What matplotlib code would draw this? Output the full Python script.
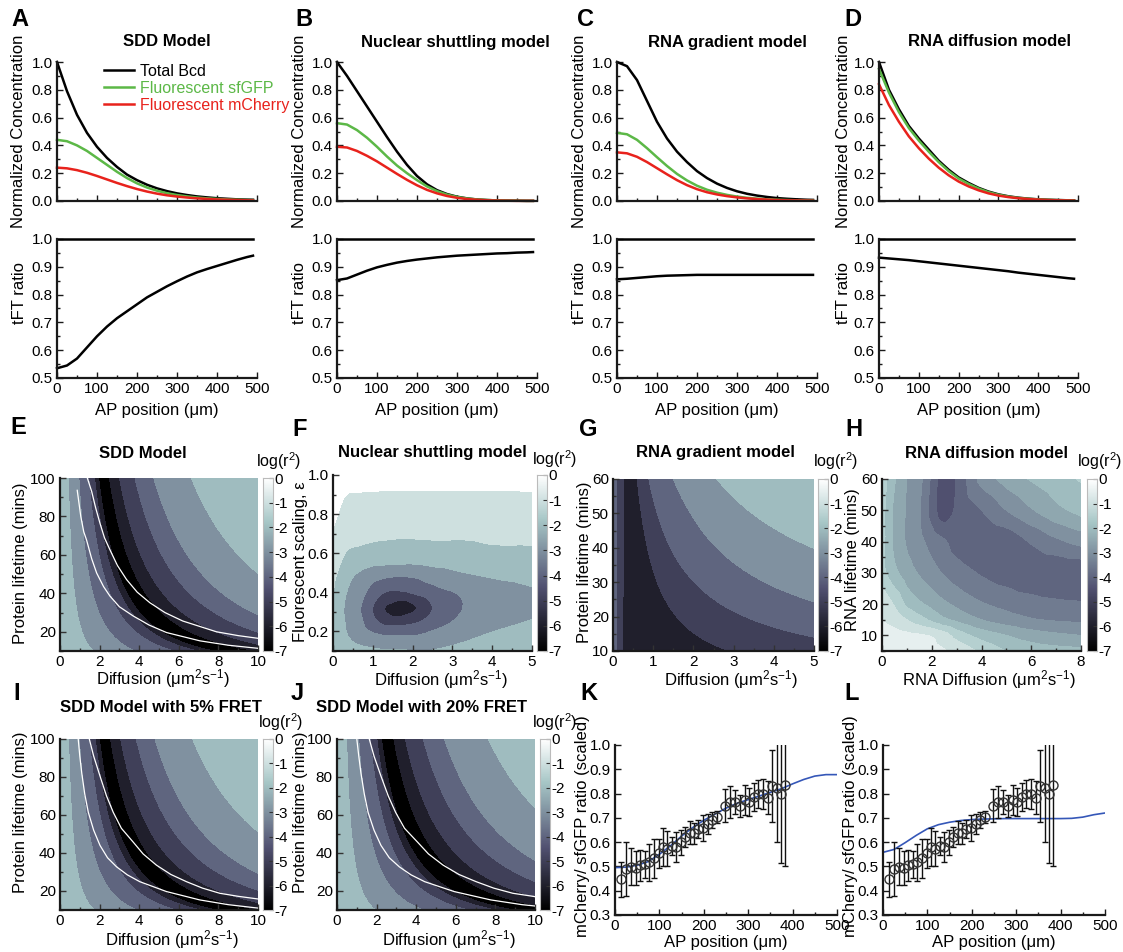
import numpy as np
import matplotlib
matplotlib.use('Agg')
import matplotlib.pyplot as plt
import matplotlib.tri as mtri
from matplotlib.colors import Normalize
from matplotlib.ticker import MultipleLocator, FormatStrFormatter

plt.rcParams['font.family'] = ['Liberation Sans', 'DejaVu Sans']
plt.rcParams['mathtext.fontset'] = 'custom'
plt.rcParams['mathtext.rm'] = 'Liberation Sans'
plt.rcParams['mathtext.it'] = 'Liberation Sans:italic'
plt.rcParams['mathtext.bf'] = 'Liberation Sans:bold'

# ---------------- data: top row (A-D) ----------------
ap_pos = [0, 25, 50, 75, 100, 125, 150, 175, 200, 225, 250, 275, 300, 325, 350, 375, 400, 425, 450, 475, 490]

A_total = [1.0, 0.79, 0.62, 0.49, 0.39, 0.31, 0.245, 0.19, 0.15, 0.117, 0.091, 0.071, 0.055, 0.043, 0.033, 0.026, 0.02, 0.016, 0.012, 0.01, 0.009]
A_gfp = [0.44, 0.43, 0.40, 0.36, 0.31, 0.26, 0.21, 0.165, 0.127, 0.097, 0.074, 0.056, 0.043, 0.033, 0.025, 0.019, 0.015, 0.011, 0.009, 0.007, 0.006]
A_mch = [0.24, 0.235, 0.222, 0.203, 0.18, 0.155, 0.13, 0.107, 0.086, 0.068, 0.053, 0.041, 0.032, 0.025, 0.019, 0.015, 0.011, 0.009, 0.007, 0.005, 0.004]
A_ratio = [0.535, 0.545, 0.57, 0.61, 0.65, 0.685, 0.715, 0.74, 0.765, 0.79, 0.81, 0.83, 0.848, 0.865, 0.88, 0.892, 0.903, 0.914, 0.925, 0.935, 0.94]

B_total = [1.0, 0.9, 0.79, 0.68, 0.57, 0.46, 0.355, 0.26, 0.18, 0.12, 0.078, 0.05, 0.031, 0.019, 0.011, 0.007, 0.004, 0.003, 0.002, 0.001, 0.001]
B_gfp = [0.56, 0.55, 0.51, 0.455, 0.39, 0.32, 0.255, 0.2, 0.15, 0.105, 0.071, 0.046, 0.029, 0.018, 0.011, 0.007, 0.004, 0.003, 0.002, 0.001, 0.001]
B_mch = [0.39, 0.385, 0.36, 0.325, 0.285, 0.24, 0.195, 0.152, 0.113, 0.08, 0.055, 0.036, 0.023, 0.014, 0.009, 0.005, 0.003, 0.002, 0.001, 0.001, 0.001]
B_ratio = [0.852, 0.858, 0.872, 0.886, 0.898, 0.907, 0.915, 0.921, 0.926, 0.93, 0.934, 0.937, 0.94, 0.942, 0.944, 0.946, 0.948, 0.949, 0.951, 0.952, 0.953]

C_total = [1.0, 0.97, 0.87, 0.72, 0.57, 0.45, 0.355, 0.28, 0.215, 0.165, 0.125, 0.094, 0.07, 0.052, 0.039, 0.029, 0.021, 0.016, 0.012, 0.009, 0.008]
C_gfp = [0.49, 0.48, 0.44, 0.38, 0.315, 0.252, 0.195, 0.148, 0.11, 0.081, 0.06, 0.044, 0.032, 0.023, 0.017, 0.012, 0.009, 0.007, 0.005, 0.004, 0.003]
C_mch = [0.35, 0.343, 0.318, 0.28, 0.236, 0.192, 0.15, 0.114, 0.085, 0.063, 0.047, 0.035, 0.026, 0.019, 0.014, 0.01, 0.007, 0.005, 0.004, 0.003, 0.002]
C_ratio = [0.855, 0.857, 0.86, 0.863, 0.866, 0.868, 0.869, 0.87, 0.871, 0.871, 0.871, 0.871, 0.871, 0.871, 0.871, 0.871, 0.871, 0.871, 0.871, 0.871, 0.871]

D_total = [1.0, 0.8, 0.66, 0.54, 0.45, 0.37, 0.29, 0.225, 0.17, 0.13, 0.095, 0.068, 0.048, 0.034, 0.024, 0.017, 0.012, 0.009, 0.007, 0.005, 0.004]
D_gfp = [0.95, 0.78, 0.64, 0.525, 0.435, 0.355, 0.28, 0.215, 0.162, 0.123, 0.09, 0.064, 0.045, 0.032, 0.022, 0.016, 0.011, 0.008, 0.006, 0.005, 0.004]
D_mch = [0.84, 0.69, 0.57, 0.465, 0.38, 0.305, 0.24, 0.185, 0.14, 0.105, 0.077, 0.055, 0.039, 0.028, 0.02, 0.014, 0.01, 0.007, 0.005, 0.004, 0.003]
D_ratio = [0.933, 0.93, 0.927, 0.924, 0.92, 0.916, 0.912, 0.908, 0.904, 0.9, 0.896, 0.892, 0.888, 0.884, 0.879, 0.875, 0.871, 0.867, 0.863, 0.859, 0.857]

top_titles = ['SDD Model', 'Nuclear shuttling model', 'RNA gradient model', 'RNA diffusion model']
legend_labels = ['Total Bcd', 'Fluorescent sfGFP', 'Fluorescent mCherry']

# ---------------- data: SDD-type maps (E, I, J): log(r^2) along u = D * tau^0.6 ----------------
sdd_exponent = 0.6
E_u = [0, 6.7, 15.1, 23, 27.7, 30.9, 35, 39.6, 47.6, 60, 75, 105, 300]
E_val = [-1.6, -2, -3, -4, -5, -6, -6.9, -6, -5, -4, -3, -2, -1.2]
I_u = [0, 6.9, 15.5, 23.5, 28.3, 31.5, 35.7, 40.4, 48.5, 61, 76, 106, 300]
I_val = [-1.6, -2, -3, -4, -5, -6, -6.9, -6, -5, -4, -3, -2, -1.2]
J_u = [0, 7.7, 17.4, 26.5, 31.9, 35.5, 40.3, 45.5, 54.7, 69, 86, 121, 345]
J_val = [-1.6, -2, -3, -4, -5, -6, -6.9, -6, -5, -4, -3, -2, -1.2]

E_white_lo_D = [0.87, 1.05, 1.2, 1.34, 1.6, 1.85, 2.2, 2.52, 3.0, 3.7, 4.5, 5.38, 7.06, 8.5, 10.0]
E_white_lo_tau = [93.6, 80, 72, 67.8, 58, 50.6, 43.5, 38.6, 33, 28.2, 23.5, 19.6, 15.3, 13, 11.4]
E_white_hi_D = [1.38, 1.6, 1.8, 2.02, 2.25, 2.52, 2.9, 3.36, 3.9, 4.54, 5.3, 6.2, 7.9, 9.0, 10.0]
E_white_hi_tau = [100, 93, 84.5, 76.4, 68.8, 62.7, 54.5, 47.2, 40.6, 35.1, 30, 25.6, 20, 18, 16.6]
I_white_lo_D = [0.92, 1.0, 1.1, 1.25, 1.43, 1.7, 2.02, 2.4, 2.86, 3.4, 4.03, 5.38, 7.06, 8.5, 10]
I_white_lo_tau = [100, 91, 82, 71, 61.4, 52, 44, 37.5, 32.7, 28.5, 24.9, 19.7, 15.3, 12.8, 11]
I_white_hi_D = [1.48, 1.7, 2.02, 2.35, 2.69, 3.1, 3.7, 4.2, 4.87, 5.6, 6.39, 7.2, 8.07, 9.0, 10]
I_white_hi_tau = [100, 91, 80.5, 70, 61.4, 53, 45.7, 39.5, 33.6, 28.7, 24.9, 21.5, 18.8, 17.2, 15.8]
J_white_lo_D = [1.0, 1.1, 1.21, 1.38, 1.57, 1.87, 2.22, 2.64, 3.15, 3.74, 4.43, 5.92, 7.77, 9.35, 10]
J_white_lo_tau = [100, 91, 82, 71, 61.4, 52, 44, 37.5, 32.7, 28.5, 24.9, 19.7, 15.3, 12.8, 12.1]
J_white_hi_D = [1.63, 1.87, 2.22, 2.59, 2.96, 3.41, 4.07, 4.62, 5.36, 6.16, 7.03, 7.92, 8.88, 9.9, 10]
J_white_hi_tau = [100, 91, 80.5, 70, 61.4, 53, 45.7, 39.5, 33.6, 28.7, 24.9, 21.5, 18.8, 17.2, 17.0]

# ---------------- data: F (nuclear shuttling) coarse grid ----------------
F_D = [0, 0.3, 0.7, 1.0, 1.3, 1.7, 2.1, 2.5, 3.2, 4.0, 5.0]
F_eps = [0.1, 0.18, 0.25, 0.32, 0.4, 0.48, 0.56, 0.64, 0.72, 0.8, 0.9, 1.0]
F_logr2 = [
    [-1.4, -1.5, -1.7, -1.8, -1.9, -1.9, -2.0, -1.95, -1.7, -1.5, -1.3],
    [-1.5, -1.9, -2.5, -2.8, -3.0, -3.0, -3.0, -2.7, -2.3, -1.9, -1.65],
    [-1.5, -2.0, -2.85, -3.7, -4.3, -4.4, -4.1, -3.6, -2.8, -2.3, -1.95],
    [-1.4, -2.05, -3.0, -4.0, -5.0, -5.6, -5.0, -4.0, -3.05, -2.6, -2.2],
    [-1.0, -1.9, -2.7, -3.4, -4.0, -4.1, -3.8, -3.4, -2.9, -2.45, -2.1],
    [-0.8, -1.6, -2.3, -2.7, -2.9, -3.0, -2.9, -2.6, -2.2, -1.95, -1.75],
    [-0.55, -1.15, -1.5, -1.7, -1.75, -1.8, -1.8, -1.7, -1.6, -1.5, -1.35],
    [-0.3, -0.85, -1.0, -1.1, -1.15, -1.2, -1.2, -1.15, -1.15, -1.02, -1.0],
    [-0.03, -0.5, -0.6, -0.7, -0.75, -0.78, -0.75, -0.75, -0.75, -0.75, -0.72],
    [0.2, -0.25, -0.3, -0.4, -0.45, -0.47, -0.45, -0.45, -0.45, -0.45, -0.44],
    [0.5, 0.03, -0.04, -0.05, -0.08, -0.08, -0.08, -0.08, -0.08, -0.08, -0.06],
    [0.8, 0.4, 0.35, 0.3, 0.3, 0.3, 0.3, 0.3, 0.3, 0.3, 0.3],
]

# ---------------- data: G (RNA gradient) contour knots per lifetime row ----------------
G_tau = [10, 20, 30, 40, 50, 60]
G_knot_val = [-3.8, -4.0, -5.0, -5.7, -5.0, -4.0, -3.0, -2.0, -1.0]
G_knot_D = [
    [0, 0.09, 0.22, 1.5, 2.9, 7.47, 16.3, 46, 184],
    [0, 0.08, 0.24, 0.9, 1.58, 3.28, 6.5, 15.2, 60],
    [0, 0.08, 0.25, 0.6, 1.1, 2.02, 3.77, 7.9, 32],
    [0, 0.08, 0.26, 0.48, 0.857, 1.43, 2.58, 4.96, 20],
    [0, 0.08, 0.26, 0.42, 0.705, 1.1, 1.93, 3.46, 14],
    [0, 0.08, 0.26, 0.4, 0.6, 0.89, 1.5, 2.58, 10.3],
]

# ---------------- data: H (RNA diffusion) coarse grid ----------------
H_D = [0, 0.5, 1, 1.5, 2, 2.5, 3, 4, 5, 6, 7, 8]
H_tau = [5, 10, 15, 20, 30, 40, 50, 60]
H_logr2 = [
    [-0.3, -0.3, -0.3, -0.35, -0.4, -0.45, -0.6, -1.1, -1.5, -1.7, -1.8, -1.85],
    [-0.3, -0.35, -0.4, -0.45, -0.55, -0.8, -1.2, -1.7, -2.0, -2.25, -2.4, -2.5],
    [-0.5, -0.7, -1.0, -1.3, -1.6, -1.9, -2.1, -2.5, -2.75, -2.95, -3.05, -3.1],
    [-0.6, -1.05, -1.6, -1.9, -2.15, -2.4, -2.6, -2.95, -3.15, -3.3, -3.4, -3.45],
    [-1.3, -1.85, -2.25, -2.55, -2.8, -3.05, -3.25, -3.55, -3.7, -3.8, -3.85, -3.85],
    [-1.3, -2.1, -2.55, -2.85, -3.2, -3.45, -3.7, -3.85, -3.8, -3.45, -3.1, -2.85],
    [-1.3, -2.1, -2.55, -2.95, -3.7, -4.3, -3.9, -3.5, -3.0, -2.55, -2.15, -1.85],
    [-1.2, -1.95, -2.5, -2.85, -3.6, -4.3, -3.95, -2.85, -2.3, -1.95, -1.7, -1.45],
]

# ---------------- data: K, L (measured ratio vs model) ----------------
meas_x = [13.5, 24, 35, 46.6, 56, 67, 77, 88, 99, 107.5, 118, 128, 137.6, 148, 158, 168, 178, 188, 199, 209,
          219.5, 229, 248, 259, 270.7, 282, 292, 302, 312, 323, 333, 343.6, 353, 364, 373, 383]
meas_y = [0.448, 0.489, 0.499, 0.492, 0.504, 0.509, 0.517, 0.533, 0.554, 0.579, 0.572, 0.585, 0.581, 0.599, 0.623,
          0.639, 0.636, 0.654, 0.657, 0.673, 0.691, 0.702, 0.75, 0.765, 0.765, 0.749, 0.774, 0.765, 0.787, 0.797,
          0.798, 0.783, 0.831, 0.824, 0.798, 0.836]
meas_err = [0.072, 0.11, 0.075, 0.07, 0.062, 0.056, 0.075, 0.08, 0.06, 0.079, 0.072, 0.038, 0.062, 0.053, 0.041,
            0.048, 0.043, 0.038, 0.054, 0.041, 0.034, 0.025, 0.067, 0.067, 0.048, 0.045, 0.062, 0.058, 0.058, 0.058,
            0.062, 0.068, 0.147, 0.224, 0.282, 0.336]
model_x = [0, 25, 50, 75, 100, 125, 150, 175, 200, 225, 250, 275, 300, 325, 350, 375, 400, 425, 450, 475, 500]
K_model = [0.495, 0.497, 0.505, 0.52, 0.55, 0.585, 0.625, 0.66, 0.69, 0.715, 0.74, 0.76, 0.775, 0.79, 0.805, 0.82,
           0.84, 0.858, 0.872, 0.878, 0.878]
L_model = [0.558, 0.57, 0.598, 0.628, 0.655, 0.672, 0.682, 0.689, 0.693, 0.695, 0.696, 0.697, 0.697, 0.697, 0.697,
           0.697, 0.697, 0.698, 0.703, 0.713, 0.72]

# ---------------- figure ----------------
W, H = 1123, 952
fig = plt.figure(figsize=(W / 100, H / 100), dpi=100)
TICK_FS = 11
LAB_FS = 12
TTL_FS = 12


def add_ax(x0, y0, x1, y1):
    return fig.add_axes([x0 / W, 1 - y1 / H, (x1 - x0) / W, (y1 - y0) / H])


def ftext(x, y, s, **kw):
    fig.text(x / W, 1 - y / H, s, **kw)


def style(ax):
    for s in ['top', 'right']:
        ax.spines[s].set_visible(False)
    for s in ['left', 'bottom']:
        ax.spines[s].set_linewidth(1.6)
        ax.spines[s].set_color('#1a1a1a')
    ax.tick_params(which='both', direction='in', labelsize=TICK_FS, width=1.0, color='#1a1a1a', pad=3)
    ax.tick_params(which='major', length=4)
    ax.tick_params(which='minor', length=2.5)


GREEN = '#5cb847'
RED = '#e8221c'
cols_x = [(57, 257), (337, 537), (617, 817), (879, 1078)]
tot = [A_total, B_total, C_total, D_total]
gfp = [A_gfp, B_gfp, C_gfp, D_gfp]
mch = [A_mch, B_mch, C_mch, D_mch]
rat = [A_ratio, B_ratio, C_ratio, D_ratio]
title_x = [167, 455, 727, 990]
letter_x = [20, 304, 586, 853]
ylab_x = [19, 299, 579, 843]

for k in range(4):
    x0, x1 = cols_x[k]
    ax = add_ax(x0, 62, x1, 201)
    style(ax)
    l1, = ax.plot(ap_pos, tot[k], color='k', lw=1.8, clip_on=False, label=legend_labels[0])
    l2, = ax.plot(ap_pos, gfp[k], color=GREEN, lw=1.8, clip_on=False, label=legend_labels[1])
    l3, = ax.plot(ap_pos, mch[k], color=RED, lw=1.8, clip_on=False, label=legend_labels[2])
    ax.set_xlim(0, 500)
    ax.set_ylim(0, 1.0)
    ax.xaxis.set_major_locator(MultipleLocator(100))
    ax.xaxis.set_minor_locator(MultipleLocator(50))
    ax.yaxis.set_major_locator(MultipleLocator(0.2))
    ax.yaxis.set_minor_locator(MultipleLocator(0.1))
    ax.yaxis.set_major_formatter(FormatStrFormatter('%.1f'))
    ax.tick_params(axis='x', which='both', labelbottom=False)
    if k == 0:
        fig.legend(handles=[l1, l2, l3], loc='upper left', bbox_to_anchor=(104 / W, 1 - 64 / H),
                   frameon=False, fontsize=11.5, handlelength=1.9, handletextpad=0.35, labelspacing=0.12,
                   borderpad=0, borderaxespad=0, labelcolor='linecolor')
    ftext(ylab_x[k], 131, 'Normalized Concentration', rotation=90, ha='center', va='center', fontsize=LAB_FS)
    ftext(title_x[k], 42, top_titles[k], ha='center', va='center', fontsize=TTL_FS, fontweight='bold')
    ftext(letter_x[k], 20, 'ABCD'[k], ha='center', va='center', fontsize=17, fontweight='bold')

    ax2 = add_ax(x0, 239, x1, 378)
    style(ax2)
    ax2.plot([0, 490], [1.0, 1.0], color='k', lw=1.8, clip_on=False)
    ax2.plot(ap_pos, rat[k], color='k', lw=1.8, clip_on=False)
    ax2.set_xlim(0, 500)
    ax2.set_ylim(0.5, 1.0)
    ax2.xaxis.set_major_locator(MultipleLocator(100))
    ax2.xaxis.set_minor_locator(MultipleLocator(50))
    ax2.yaxis.set_major_locator(MultipleLocator(0.1))
    ax2.yaxis.set_minor_locator(MultipleLocator(0.05))
    ax2.yaxis.set_major_formatter(FormatStrFormatter('%.1f'))
    ftext(ylab_x[k] + 1, 293, 'tFT ratio', rotation=90, ha='center', va='center', fontsize=LAB_FS)
    ftext((x0 + x1) / 2, 410, 'AP position (\u03bcm)', ha='center', va='center', fontsize=LAB_FS)

# ---------------- contour helpers ----------------
cmap = plt.get_cmap('bone')
norm = Normalize(-7, 0)
lev_int = np.concatenate([np.arange(-7, 0.01, 1.0), [1.0]])
lev_half = np.concatenate([np.arange(-7, 0.01, 0.5), [1.0]])


def band_colors(lev):
    return [cmap(norm(v)) for v in lev[:-1]]


def clipz(z):
    return np.clip(z, -6.999, 0.999)


def refine_grid(xn, yn, Z, subdiv=4):
    X, Y = np.meshgrid(np.asarray(xn, float), np.asarray(yn, float))
    ny, nx = X.shape
    tris = []
    for i in range(ny - 1):
        for j in range(nx - 1):
            a = i * nx + j
            tris.append([a, a + 1, a + nx + 1])
            tris.append([a, a + nx + 1, a + nx])
    tri = mtri.Triangulation(X.ravel(), Y.ravel(), triangles=tris)
    z = np.asarray(Z, float).ravel()
    interp = mtri.CubicTriInterpolator(tri, z, kind='geom')
    ref = mtri.UniformTriRefiner(tri)
    return ref.refine_field(z, triinterpolator=interp, subdiv=subdiv)


def knot_field(Dv, Tv, tau_nodes, knots_D, knots_V):
    kD = np.asarray(knots_D, float)
    lt = np.log(np.asarray(tau_nodes, float))
    Z = np.empty((len(Tv), len(Dv)))
    for i, t in enumerate(Tv):
        d = []
        for j in range(kD.shape[1]):
            col = kD[:, j]
            if np.all(col == 0):
                d.append(0.0)
            else:
                d.append(np.exp(np.interp(np.log(t), lt, np.log(col))))
        Z[i] = np.interp(Dv, d, knots_V)
    return Z


def colorbar(x0, y0, x1, y1, label_xy):
    cax = add_ax(x0, y0, x1, y1)
    grad = np.linspace(0, -7, 300)[:, None]
    cax.imshow(grad, aspect='auto', cmap=cmap, norm=norm, extent=[0, 1, -7, 0], origin='upper')
    cax.set_xlim(0, 1)
    cax.set_ylim(-7, 0)
    cax.set_xticks([])
    cax.yaxis.tick_right()
    cax.set_yticks(range(0, -8, -1))
    cax.set_yticklabels(['0', '-1', '-2', '-3', '-4', '-5', '-6', '-7'])
    cax.tick_params(axis='y', direction='in', length=3, width=0.8, labelsize=TICK_FS, pad=1, color='#333333')
    for s in cax.spines.values():
        s.set_linewidth(0.8)
        s.set_color('#bbbbbb')
    ftext(label_xy[0], label_xy[1], 'log(r$^2$)', ha='center', va='center', fontsize=11.5)


def map_axes(x0, y0, x1, y1, xlim, ylim, xmaj, xmin, ymaj, ymin, yfmt=None):
    ax = add_ax(x0, y0, x1, y1)
    style(ax)
    ax.set_xlim(*xlim)
    ax.set_ylim(*ylim)
    ax.xaxis.set_major_locator(MultipleLocator(xmaj))
    ax.xaxis.set_minor_locator(MultipleLocator(xmin))
    ax.yaxis.set_major_locator(MultipleLocator(ymaj))
    ax.yaxis.set_minor_locator(MultipleLocator(ymin))
    if yfmt:
        ax.yaxis.set_major_formatter(FormatStrFormatter(yfmt))
    ax.tick_params(which='both', color='#333333')
    return ax


DIFF_LABEL = 'Diffusion (\u03bcm$^2$s$^{-1}$)'


def sdd_panel(x0, y0, x1, y1, u_tab, v_tab, wlo, whi):
    ax = map_axes(x0, y0, x1, y1, (0, 10), (10, 100), 2, 1, 20, 10)
    Dv = np.linspace(0, 10, 500)
    Tv = np.linspace(10, 100, 400)
    DD, TT = np.meshgrid(Dv, Tv)
    Z = np.interp(DD * TT ** sdd_exponent, u_tab, v_tab)
    ax.contourf(DD, TT, clipz(Z), levels=lev_int, colors=band_colors(lev_int))
    ax.plot(wlo[0], wlo[1], color='white', lw=0.9)
    ax.plot(whi[0], whi[1], color='white', lw=0.9)
    return ax


# ---------------- E ----------------
sdd_panel(60, 478, 258, 651, E_u, E_val, (E_white_lo_D, E_white_lo_tau), (E_white_hi_D, E_white_hi_tau))
colorbar(263, 478, 273, 651, (279, 461))
ftext(21, 563, 'Protein lifetime (mins)', rotation=90, ha='center', va='center', fontsize=LAB_FS)
ftext(163, 679, DIFF_LABEL, ha='center', va='center', fontsize=LAB_FS)
ftext(143, 453, 'SDD Model', ha='center', va='center', fontsize=TTL_FS, fontweight='bold')
ftext(18, 427, 'E', ha='center', va='center', fontsize=17, fontweight='bold')

# ---------------- F ----------------
axF = map_axes(333, 475, 532, 651, (0, 5), (0.1, 1.0), 1, 0.5, 0.2, 0.1, '%.1f')
triF, zF = refine_grid(F_D, F_eps, F_logr2, subdiv=4)
axF.tricontourf(triF, clipz(zF), levels=lev_int, colors=band_colors(lev_int))
colorbar(537, 475, 547, 651, (555, 459))
ftext(301, 562, 'Fluorescent scaling, \u03b5', rotation=90, ha='center', va='center', fontsize=LAB_FS)
ftext(441, 680, DIFF_LABEL, ha='center', va='center', fontsize=LAB_FS)
ftext(432, 453, 'Nuclear shuttling model', ha='center', va='center', fontsize=TTL_FS, fontweight='bold')
ftext(300, 430, 'F', ha='center', va='center', fontsize=17, fontweight='bold')

# ---------------- G ----------------
axG = map_axes(613, 479, 814, 651, (0, 5), (10, 60), 1, 0.5, 10, 5)
Dg = np.linspace(0, 5, 500)
Tg = np.linspace(10, 60, 400)
ZG = knot_field(Dg, Tg, G_tau, G_knot_D, G_knot_val)
axG.contourf(Dg, Tg, clipz(ZG), levels=lev_int, colors=band_colors(lev_int))
colorbar(818, 479, 828, 651, (836, 461))
ftext(585, 562, 'Protein lifetime (mins)', rotation=90, ha='center', va='center', fontsize=LAB_FS)
ftext(731, 680, DIFF_LABEL, ha='center', va='center', fontsize=LAB_FS)
ftext(715, 453, 'RNA gradient model', ha='center', va='center', fontsize=TTL_FS, fontweight='bold')
ftext(588, 430, 'G', ha='center', va='center', fontsize=17, fontweight='bold')

# ---------------- H ----------------
axH = map_axes(882, 479, 1081, 651, (0, 8), (5, 60), 2, 1, 10, 5)
triH, zH = refine_grid(H_D, H_tau, H_logr2, subdiv=4)
axH.tricontourf(triH, clipz(zH), levels=lev_half, colors=band_colors(lev_half))
colorbar(1087, 479, 1097, 651, (1100, 461))
ftext(852, 560, 'RNA lifetime (mins)', rotation=90, ha='center', va='center', fontsize=LAB_FS)
ftext(989, 680, 'RNA ' + DIFF_LABEL, ha='center', va='center', fontsize=LAB_FS)
ftext(987, 453, 'RNA diffusion model', ha='center', va='center', fontsize=TTL_FS, fontweight='bold')
ftext(854, 430, 'H', ha='center', va='center', fontsize=17, fontweight='bold')

# ---------------- I ----------------
sdd_panel(60, 739, 258, 910, I_u, I_val, (I_white_lo_D, I_white_lo_tau), (I_white_hi_D, I_white_hi_tau))
colorbar(263, 739, 273, 910, (281, 722))
ftext(21, 812, 'Protein lifetime (mins)', rotation=90, ha='center', va='center', fontsize=LAB_FS)
ftext(172, 940, DIFF_LABEL, ha='center', va='center', fontsize=LAB_FS)
ftext(161, 708, 'SDD Model with 5% FRET', ha='center', va='center', fontsize=TTL_FS, fontweight='bold')
ftext(17, 693, 'I', ha='center', va='center', fontsize=17, fontweight='bold')

# ---------------- J ----------------
sdd_panel(337, 739, 535, 910, J_u, J_val, (J_white_lo_D, J_white_lo_tau), (J_white_hi_D, J_white_hi_tau))
colorbar(540, 739, 550, 910, (555, 722))
ftext(300, 812, 'Protein lifetime (mins)', rotation=90, ha='center', va='center', fontsize=LAB_FS)
ftext(449, 940, DIFF_LABEL, ha='center', va='center', fontsize=LAB_FS)
ftext(421, 708, 'SDD Model with 20% FRET', ha='center', va='center', fontsize=TTL_FS, fontweight='bold')
ftext(297, 693, 'J', ha='center', va='center', fontsize=17, fontweight='bold')


# ---------------- K, L ----------------
def ratio_panel(x0, x1, model, letter, ylab_x, letter_x):
    ax = add_ax(x0, 745, x1, 915)
    style(ax)
    ax.plot(model_x, model, color='#3557b8', lw=1.2, zorder=2)
    ax.errorbar(meas_x, meas_y, yerr=meas_err, fmt='o', mfc='none', mec='#333333', mew=1.0, ms=6.5,
                ecolor='#111111', elinewidth=1.0, capsize=2.5, capthick=1.0, zorder=3)
    ax.set_xlim(0, 500)
    ax.set_ylim(0.3, 1.0)
    ax.xaxis.set_major_locator(MultipleLocator(100))
    ax.xaxis.set_minor_locator(MultipleLocator(50))
    ax.yaxis.set_major_locator(MultipleLocator(0.1))
    ax.yaxis.set_major_formatter(FormatStrFormatter('%.1f'))
    ftext(ylab_x, 826, 'mCherry/ sfGFP ratio (scaled)', rotation=90, ha='center', va='center', fontsize=LAB_FS)
    ftext((x0 + x1) / 2, 942, 'AP position (\u03bcm)', ha='center', va='center', fontsize=LAB_FS)
    ftext(letter_x, 693, letter, ha='center', va='center', fontsize=17, fontweight='bold')
    return ax


ratio_panel(615, 837, K_model, 'K', 583, 589)
ratio_panel(883, 1105, L_model, 'L', 851, 852)

fig.savefig('out.png', dpi=100)
